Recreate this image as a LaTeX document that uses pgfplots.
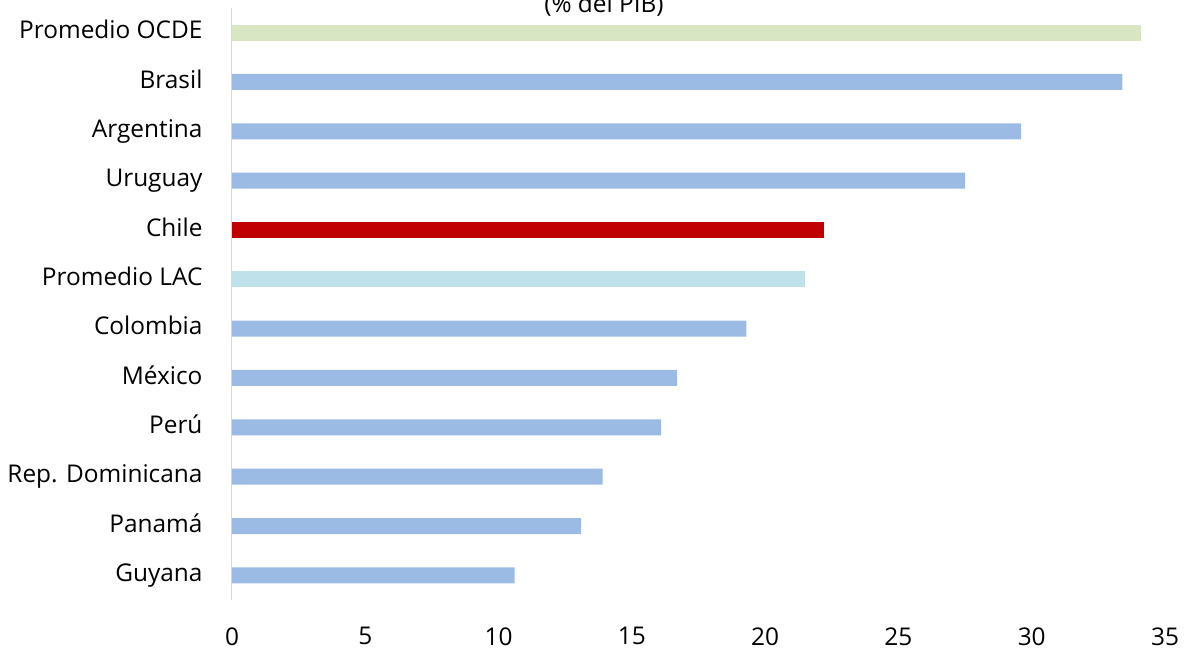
\documentclass[border=0pt]{standalone}
\usepackage{fontspec}
\setmainfont{Open Sans}
\usepackage{pgfplots}
\pgfplotsset{compat=1.18}
\definecolor{barblue}{RGB}{155,187,228}
\definecolor{lacblue}{RGB}{190,225,234}
\definecolor{chilered}{RGB}{192,0,0}
\definecolor{ocdegreen}{RGB}{217,230,195}
\begin{document}
\begin{tikzpicture}
\begin{axis}[
  at={(0,0)}, anchor=south west,
  scale only axis, width=933bp, height=592bp,
  xmin=0, xmax=35, ymin=-0.5, ymax=11.5,
  xtick={0,5,...,35}, ytick={0,...,11},
  yticklabels={Guyana,Panamá,Rep. Dominicana,Perú,México,Colombia,Promedio LAC,Chile,Uruguay,Argentina,Brasil,Promedio OCDE},
  axis x line*=bottom, axis y line*=left,
  x axis line style={draw=none},
  y axis line style={draw=black!15, line width=1bp},
  major tick length=0pt,
  tick label style={font=\fontsize{24.5}{28}\selectfont},
  /pgf/number format/assume math mode=true,
  xticklabel style={yshift=-24bp},
  yticklabel style={anchor=base east, yshift=-6.2bp, xshift=-26bp},
  xbar, bar width=16bp, bar shift=0pt,
  clip=false,
]
\addplot[fill=barblue, draw=none] coordinates {(10.6,0) (13.1,1) (13.9,2) (16.1,3) (16.7,4) (19.3,5) (27.5,8) (29.6,9) (33.4,10)};
\addplot[fill=lacblue, draw=none] coordinates {(21.5,6)};
\addplot[fill=chilered, draw=none] coordinates {(22.2,7)};
\addplot[fill=ocdegreen, draw=none] coordinates {(34.1,11)};
\end{axis}
\node[anchor=base, font=\fontsize{24.5}{28}\selectfont] at (372bp,587bp) {(\% del PIB)};
\pgfresetboundingbox
\path (-232bp,-50bp) rectangle (953bp,600bp);
\end{tikzpicture}
\end{document}
